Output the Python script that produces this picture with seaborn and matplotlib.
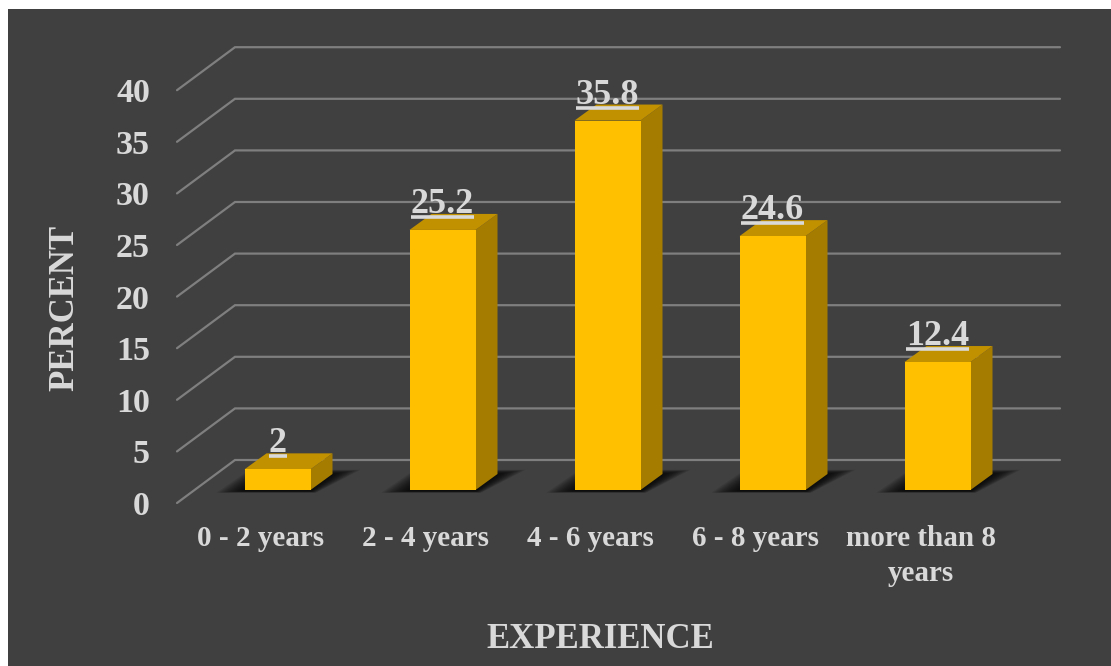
import matplotlib
matplotlib.use("Agg")
import matplotlib.pyplot as plt
import matplotlib.transforms as mtrans
from matplotlib.patches import Polygon, Rectangle
import seaborn as sns
import pandas as pd

categories = ["0 - 2 years", "2 - 4 years", "4 - 6 years", "6 - 8 years", "more than 8\nyears"]
percent = [2, 25.2, 35.8, 24.6, 12.4]
value_labels = ["2", "25.2", "35.8", "24.6", "12.4"]
y_ticks = [0, 5, 10, 15, 20, 25, 30, 35, 40]
x_title = "EXPERIENCE"
y_title = "PERCENT"

W, H = 1111, 666
BG, TXT, GRID = "#404040", "#D9D9D9", "#7F7F7F"
FRONT, TOP, SIDE = "#FFC000", "#C29100", "#A67C00"

sns.set_theme(style="dark")
plt.rcParams["font.family"] = ["Liberation Serif", "DejaVu Serif"]
plt.rcParams["font.weight"] = "bold"

fig = plt.figure(figsize=(W / 100, H / 100), dpi=100, facecolor="white")
fig.patches.append(Rectangle((8 / W, 0), 1 - 8 / W, 1 - 9 / H, transform=fig.transFigure,
                             facecolor=BG, edgecolor="none", figure=fig, zorder=-5))

# plot area in pixels
L, R, B, T_ = 177, 1060, 490, 77.2
ax = fig.add_axes([L / W, 1 - B / H, (R - L) / W, (B - T_) / H])
ax.patch.set_visible(False)
PX_X = 165.0
PX_Y = (B - T_) / 40.0
dx = lambda p: p / PX_X
dy = lambda p: p / PX_Y

df = pd.DataFrame({"cat": categories, "pct": percent})
sns.barplot(data=df, x="cat", y="pct", color=FRONT, saturation=1, width=0.4, ax=ax, zorder=5, linewidth=0)

x0 = (L - 277.5) / PX_X
ax.set_xlim(x0, x0 + (R - L) / PX_X)
ax.set_ylim(0, 40)
for s in ax.spines.values():
    s.set_visible(False)

# gridlines with perspective wall / floor
for v in y_ticks:
    ax.plot([x0, x0 + dx(58), x0 + dx(R - L)],
            [v - dy(13), v + dy(30), v + dy(30)],
            color=GRID, lw=1.6, clip_on=False, zorder=1, solid_joinstyle="miter")

# bar depth and soft floor shadow
hw = 0.2
ddx, ddy = dx(22), dy(16)
for i, v in enumerate(percent):
    for e in range(28, 0, -2):
        low, high = -dy(1 + e * 0.06), ddy + dy(e * 0.15)
        ax.add_patch(Polygon([(i - hw - dx(e), low), (i + hw + dx(e * 0.2), low),
                              (i + hw + ddx + dx(e), high), (i - hw + ddx - dx(e * 0.6), high)],
                             closed=True, facecolor="black", edgecolor="none", alpha=0.09,
                             clip_on=False, zorder=2))
    ax.add_patch(Polygon([(i + hw, 0), (i + hw + ddx, ddy), (i + hw + ddx, v + ddy), (i + hw, v)],
                         closed=True, facecolor=SIDE, edgecolor="none", clip_on=False, zorder=4))
    ax.add_patch(Polygon([(i - hw, v), (i + hw, v), (i + hw + ddx, v + ddy), (i - hw + ddx, v + ddy)],
                         closed=True, facecolor=TOP, edgecolor="none", clip_on=False, zorder=4))

# value labels with underline
renderer = fig.canvas.get_renderer()
inv = ax.transData.inverted()
for i, (v, lab) in enumerate(zip(percent, value_labels)):
    t = ax.text(i, v + dy(17), lab, ha="center", va="baseline", color=TXT, fontsize=26,
                fontweight="bold", zorder=7, clip_on=False)
    ext = t.get_window_extent(renderer)
    xa = inv.transform((ext.x0, 0))[0]
    xb = inv.transform((ext.x1, 0))[0]
    ax.plot([xa, xb], [v + dy(13), v + dy(13)], color=TXT, lw=2.6, solid_capstyle="butt",
            clip_on=False, zorder=7)

# ticks
ax.set_yticks(y_ticks)
ax.set_yticklabels([str(v) for v in y_ticks])
ax.tick_params(axis="y", length=0, pad=19.5, labelsize=24.5, labelcolor=TXT)
ax.tick_params(axis="x", length=0, pad=25, labelsize=21, labelcolor=TXT)
y_off = mtrans.ScaledTranslation(0, -13 / 100, fig.dpi_scale_trans)
x_off = mtrans.ScaledTranslation(-17 / 100, 0, fig.dpi_scale_trans)
for lab in ax.get_yticklabels():
    lab.set_transform(lab.get_transform() + y_off)
    lab.set_fontweight("bold")
for lab in ax.get_xticklabels():
    lab.set_transform(lab.get_transform() + x_off)
    lab.set_fontweight("bold")
    lab.set_linespacing(1.38)
    lab.set_ha("center")

ax.set_xlabel(x_title, color=TXT, fontsize=25, fontweight="bold")
ax.set_ylabel(y_title, color=TXT, fontsize=25, fontweight="bold")
ax.xaxis.set_label_coords(600 / W, 1 - 640 / H, transform=fig.transFigure)
ax.xaxis.label.set_va("center")
ax.yaxis.set_label_coords(65 / W, 1 - 308 / H, transform=fig.transFigure)
ax.yaxis.label.set_va("center")

fig.savefig("out.png", dpi=100, facecolor=fig.get_facecolor())
